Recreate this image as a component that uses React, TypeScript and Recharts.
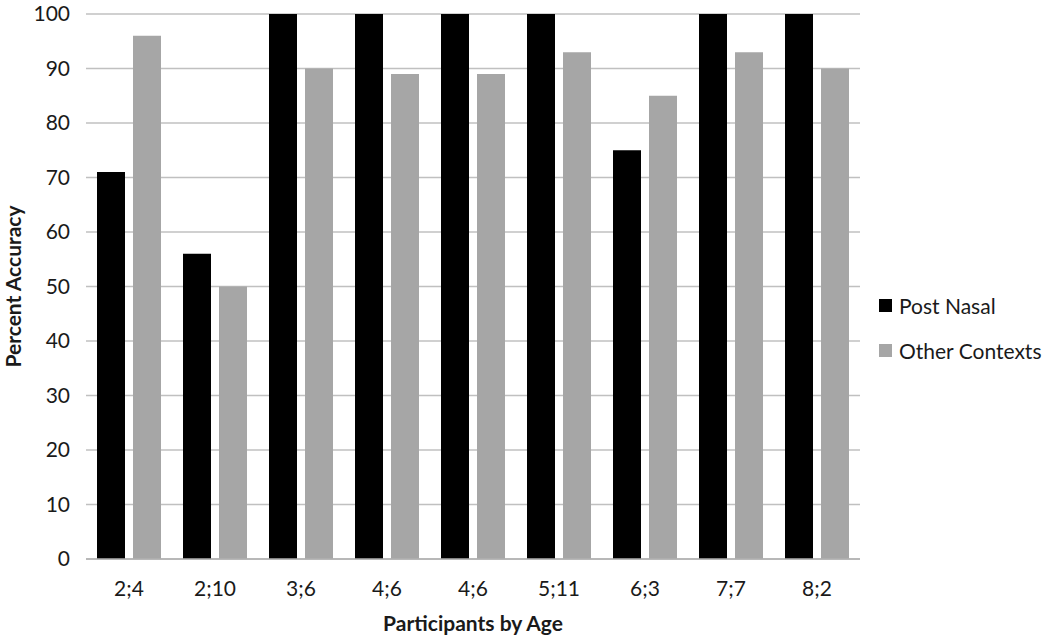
import React from "react";
import {
  BarChart,
  Bar,
  XAxis,
  YAxis,
  CartesianGrid,
  Legend,
} from "recharts";

const ages = ["2;4", "2;10", "3;6", "4;6", "4;6", "5;11", "6;3", "7;7", "8;2"];
const postNasal = [71, 56, 100, 100, 100, 100, 75, 100, 100];
const otherContexts = [96, 50, 90, 89, 89, 93, 85, 93, 90];
const yTicks = [0, 10, 20, 30, 40, 50, 60, 70, 80, 90, 100];

const data = ages.map((age, i) => ({
  age,
  postNasal: postNasal[i],
  otherContexts: otherContexts[i],
}));

const FONT = "Lato, 'Open Sans', sans-serif";
const TEXT = "#1a1a1a";

function LegendBox() {
  const items = [
    { label: "Post Nasal", color: "#000000" },
    { label: "Other Contexts", color: "#a6a6a6" },
  ];
  return (
    <div style={{ fontFamily: FONT, fontSize: 21, color: TEXT }}>
      {items.map((it) => (
        <div
          key={it.label}
          style={{ display: "flex", alignItems: "center", height: 45 }}
        >
          <span
            style={{
              width: 13,
              height: 13,
              background: it.color,
              marginRight: 7,
              display: "inline-block",
            }}
          />
          <span>{it.label}</span>
        </div>
      ))}
    </div>
  );
}

export default function App() {
  return (
    <div style={{ position: "absolute", left: 0, top: 0, background: "#fff" }}>
      <BarChart
        width={1050}
        height={643}
        data={data}
        margin={{ top: 14, right: 190, bottom: 0, left: 0 }}
        barSize={28}
        barGap={8}
      >
        <CartesianGrid vertical={false} stroke="#c0c0c0" strokeWidth={1.5} />
        <XAxis
          dataKey="age"
          height={84}
          tickLine={false}
          tickSize={0}
          tickMargin={22}
          axisLine={{ stroke: "#b0b0b0", strokeWidth: 1.5 }}
          tick={{ fill: TEXT, fontSize: 21, fontFamily: FONT }}
          label={{
            value: "Participants by Age",
            position: "insideBottom",
            offset: 12,
            style: {
              fontWeight: "bold",
              fontSize: 21,
              fontFamily: FONT,
              fill: TEXT,
            },
          }}
        />
        <YAxis
          width={86}
          domain={[0, 100]}
          ticks={yTicks}
          interval={0}
          axisLine={false}
          tickLine={false}
          tickSize={0}
          tickMargin={16}
          tick={{ fill: TEXT, fontSize: 21, fontFamily: FONT }}
          label={{
            value: "Percent Accuracy",
            angle: -90,
            position: "center",
            dx: -29,
            style: {
              fontWeight: "bold",
              fontSize: 21,
              fontFamily: FONT,
              fill: TEXT,
              textAnchor: "middle",
            },
          }}
        />
        <Legend
          layout="vertical"
          align="center"
          verticalAlign="middle"
          content={<LegendBox />}
          wrapperStyle={{ left: 879, top: 283, width: 170 }}
        />
        <Bar
          dataKey="postNasal"
          name="Post Nasal"
          fill="#000000"
          isAnimationActive={false}
        />
        <Bar
          dataKey="otherContexts"
          name="Other Contexts"
          fill="#a6a6a6"
          isAnimationActive={false}
        />
      </BarChart>
    </div>
  );
}
